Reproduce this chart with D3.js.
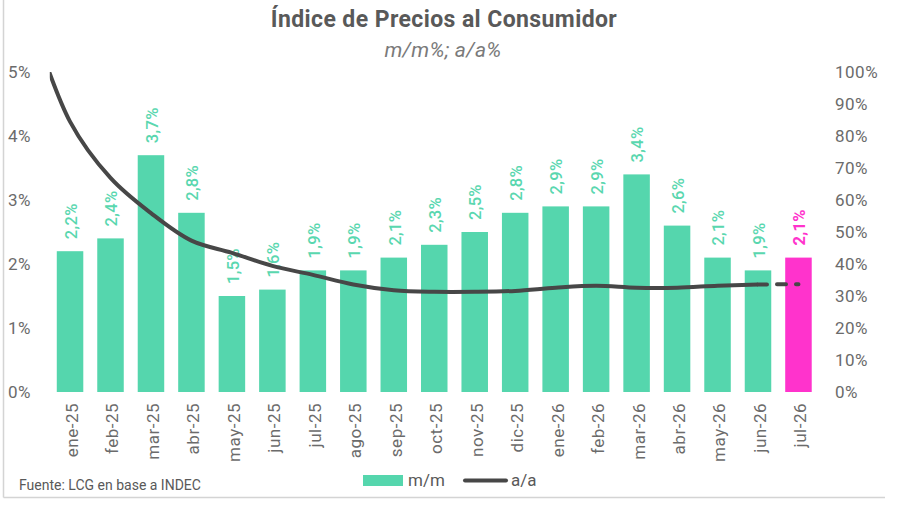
<!DOCTYPE html>
<html>
<head>
<meta charset="utf-8">
<script src="https://d3js.org/d3.v7.min.js"></script>
<style>
  body { margin: 0; background: #fff; }
  text { font-family: Roboto, "Liberation Sans", sans-serif; }
  .axis text { fill: #6b6b6b; font-size: 17px; letter-spacing: 0.5px; font-family: Roboto, "Liberation Sans", sans-serif; }
  .axis path, .axis line { display: none; }
</style>
</head>
<body>
<svg id="chart" width="900" height="510"></svg>
<script>
  // m/m monthly change (%), bars
  const months = ["ene-25", "feb-25", "mar-25", "abr-25", "may-25", "jun-25", "jul-25", "ago-25", "sep-25",
    "oct-25", "nov-25", "dic-25", "ene-26", "feb-26", "mar-26", "abr-26", "may-26", "jun-26", "jul-26"];
  const mm = [2.2, 2.4, 3.7, 2.8, 1.5, 1.6, 1.9, 1.9, 2.1, 2.3, 2.5, 2.8, 2.9, 2.9, 3.4, 2.6, 2.1, 1.9, 2.1];
  // a/a yearly change (%), line; first point (dic-24) sits left of the plot and gets clipped
  const aaMonths = ["dic-24"].concat(months);
  const aa = [117.8, 84.5, 66.9, 55.9, 47.3, 43.5, 39.4, 36.6, 33.6, 31.8, 31.3, 31.3, 31.6, 32.6, 33.2, 32.6,
    32.6, 33.2, 33.6, 33.7];
  const leftTicks = [0, 1, 2, 3, 4, 5];
  const rightTicks = [0, 10, 20, 30, 40, 50, 60, 70, 80, 90, 100];
  const highlight = "jul-26";

  const svg = d3.select("#chart");
  const plot = { left: 49.8, right: 818.7, top: 72, bottom: 392 };

  const green = "#55d6ad", greenText = "#5ad7af", pink = "#ff33cc";
  const lineColor = "#474747";

  const es = d3.formatLocale({ decimal: ",", thousands: ".", grouping: [3], currency: ["$", ""] });
  const fmt1 = es.format(".1f");

  // frame
  svg.append("line").attr("x1", 3.5).attr("x2", 3.5).attr("y1", 0).attr("y2", 497.5)
    .attr("stroke", "#d4d4d4").attr("stroke-width", 1.5);
  svg.append("line").attr("x1", 3.5).attr("x2", 885).attr("y1", 497.5).attr("y2", 497.5)
    .attr("stroke", "#d4d4d4").attr("stroke-width", 1.5);

  // titles
  svg.append("text").attr("x", 444).attr("y", 27).attr("text-anchor", "middle")
    .style("font-size", "23px").style("font-weight", "bold").style("fill", "#595959")
    .style("letter-spacing", "0.4px")
    .text("Índice de Precios al Consumidor");
  svg.append("text").attr("x", 443).attr("y", 57).attr("text-anchor", "middle")
    .style("font-size", "21px").style("font-style", "italic").style("fill", "#7a7a7a")
    .style("letter-spacing", "0.3px")
    .text("m/m%; a/a%");

  const x = d3.scaleBand().domain(months).range([plot.left, plot.right])
    .paddingInner(0.345).paddingOuter(0.1725);
  const bw = x.bandwidth();
  const y = d3.scaleLinear().domain([0, 5]).range([plot.bottom, plot.top]);
  const y2 = d3.scaleLinear().domain([0, 100]).range([plot.bottom, plot.top]);
  // position by index so the line can extend one step left of ene-25
  const xi = d3.scaleLinear().domain([0, months.length - 1])
    .range([x(months[0]) + bw / 2, x(months[months.length - 1]) + bw / 2]);

  // axes
  svg.append("g").attr("class", "axis").attr("transform", "translate(31,0)")
    .call(d3.axisLeft(y).tickValues(leftTicks).tickSize(0).tickPadding(0).tickFormat(d => d + "%"));
  svg.append("g").attr("class", "axis").attr("transform", "translate(835,0)")
    .call(d3.axisRight(y2).tickValues(rightTicks).tickSize(0).tickPadding(0).tickFormat(d => d + "%"));
  svg.append("g").attr("class", "axis").attr("transform", `translate(0,${plot.bottom})`)
    .call(d3.axisBottom(x).tickSize(0))
    .selectAll("text")
    .attr("transform", "rotate(-90)")
    .attr("x", -11).attr("y", 2).attr("dy", "0.35em")
    .style("text-anchor", "end");

  // bars
  svg.append("g").selectAll("rect")
    .data(months)
    .join("rect")
    .attr("x", d => x(d))
    .attr("y", (d, i) => y(mm[i]))
    .attr("width", bw)
    .attr("height", (d, i) => plot.bottom - y(mm[i]))
    .attr("fill", d => d === highlight ? pink : green);

  // bar labels
  svg.append("g").selectAll("text")
    .data(months)
    .join("text")
    .attr("transform", (d, i) => `translate(${x(d) + bw / 2 + 1},${y(mm[i]) - 12}) rotate(-90)`)
    .attr("dy", "0.35em")
    .style("font-size", "16.5px")
    .style("letter-spacing", "0.3px")
    .style("font-weight", d => d === highlight ? "bold" : "500")
    .style("fill", d => d === highlight ? pink : greenText)
    .text((d, i) => fmt1(mm[i]) + "%");

  // a/a line
  svg.append("defs").append("clipPath").attr("id", "plotClip")
    .append("rect").attr("x", plot.left).attr("y", plot.top)
    .attr("width", plot.right - plot.left).attr("height", plot.bottom - plot.top);

  const pts = aa.map((v, i) => [xi(i - 1), y2(v)]);
  const line = d3.line().curve(d3.curveCatmullRom.alpha(0.5));
  const lineG = svg.append("g").attr("clip-path", "url(#plotClip)");
  lineG.append("path").datum(pts.slice(0, pts.length - 1))
    .attr("d", line).attr("fill", "none").attr("stroke", lineColor)
    .attr("stroke-width", 4).attr("stroke-linejoin", "round");
  lineG.append("path").datum(pts.slice(pts.length - 2))
    .attr("d", d3.line()).attr("fill", "none").attr("stroke", lineColor)
    .attr("stroke-width", 4).attr("stroke-linecap", "round")
    .attr("stroke-dasharray", "9,10");

  // source
  svg.append("text").attr("x", 19).attr("y", 490)
    .style("font-size", "14px").style("fill", "#595959")
    .text("Fuente: LCG en base a INDEC");

  // legend
  const lg = svg.append("g");
  lg.append("rect").attr("x", 363).attr("y", 475).attr("width", 40).attr("height", 11).attr("fill", green);
  lg.append("text").attr("x", 408).attr("y", 486).style("font-size", "17px").style("fill", "#595959").text("m/m");
  lg.append("line").attr("x1", 465).attr("x2", 506).attr("y1", 480.5).attr("y2", 480.5)
    .attr("stroke", lineColor).attr("stroke-width", 4).attr("stroke-linecap", "round");
  lg.append("text").attr("x", 511).attr("y", 486).style("font-size", "17px").style("fill", "#595959").text("a/a");
</script>
</body>
</html>
